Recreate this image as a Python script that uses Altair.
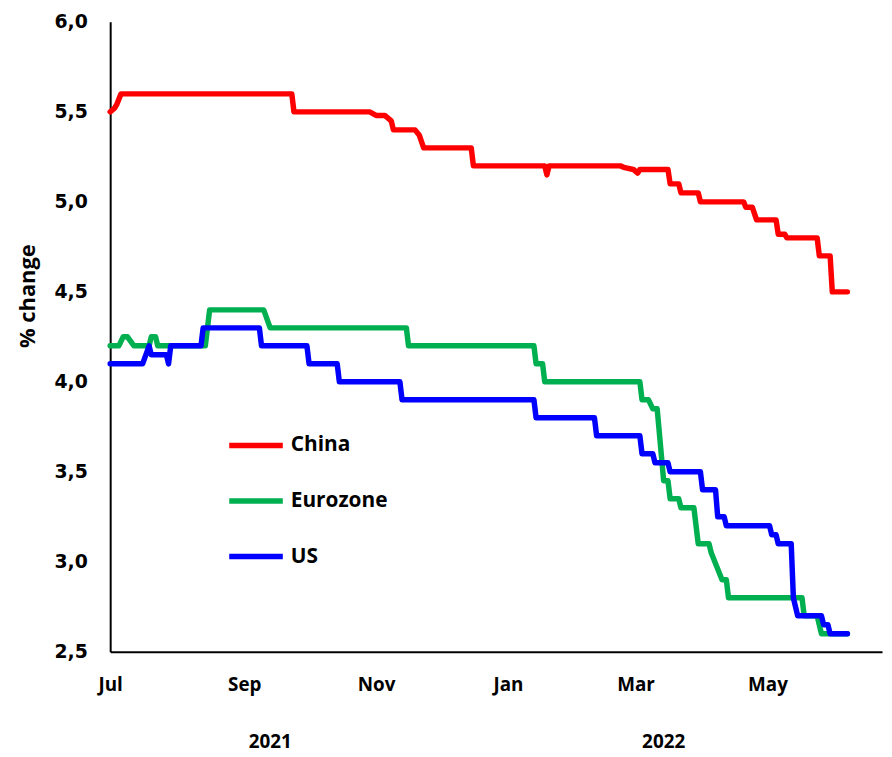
import altair as alt
import pandas as pd

# ---- data ----
series_names = ["China", "Eurozone", "US"]
series_colors = ["#FF0000", "#00B050", "#0000FF"]

china_dates = ["2021-07-01", "2021-07-03", "2021-07-04", "2021-07-06", "2021-09-23", "2021-09-24",
               "2021-10-29", "2021-11-01", "2021-11-05", "2021-11-08", "2021-11-09", "2021-11-19",
               "2021-11-21", "2021-11-23", "2021-12-15", "2021-12-16", "2022-01-18", "2022-01-19",
               "2022-01-20", "2022-02-22", "2022-02-24", "2022-02-28", "2022-03-02", "2022-03-03",
               "2022-03-16", "2022-03-17", "2022-03-21", "2022-03-22", "2022-03-30", "2022-03-31",
               "2022-04-20", "2022-04-21", "2022-04-24", "2022-04-26", "2022-05-05", "2022-05-06",
               "2022-05-09", "2022-05-10", "2022-05-24", "2022-05-25", "2022-05-30", "2022-05-31",
               "2022-06-07"]
china_values = [5.50, 5.52, 5.54, 5.60, 5.60, 5.50,
                5.50, 5.48, 5.48, 5.45, 5.40, 5.40,
                5.37, 5.30, 5.30, 5.20, 5.20, 5.15,
                5.20, 5.20, 5.19, 5.18, 5.16, 5.18,
                5.18, 5.10, 5.10, 5.05, 5.05, 5.00,
                5.00, 4.97, 4.97, 4.90, 4.90, 4.82,
                4.82, 4.80, 4.80, 4.70, 4.70, 4.50,
                4.50]

euro_dates = ["2021-07-01", "2021-07-05", "2021-07-07", "2021-07-09", "2021-07-12", "2021-07-19",
              "2021-07-20", "2021-07-22", "2021-07-23", "2021-08-14", "2021-08-16", "2021-09-10",
              "2021-09-13", "2021-11-15", "2021-11-16", "2022-01-13", "2022-01-14", "2022-01-17",
              "2022-01-18", "2022-03-03", "2022-03-04", "2022-03-07", "2022-03-09", "2022-03-11",
              "2022-03-14", "2022-03-16", "2022-03-17", "2022-03-21", "2022-03-22", "2022-03-28",
              "2022-03-30", "2022-04-04", "2022-04-05", "2022-04-10", "2022-04-12", "2022-04-13",
              "2022-05-17", "2022-05-18", "2022-05-24", "2022-05-26", "2022-06-07"]
euro_values = [4.20, 4.20, 4.25, 4.25, 4.20, 4.20,
               4.25, 4.25, 4.20, 4.20, 4.40, 4.40,
               4.30, 4.30, 4.20, 4.20, 4.10, 4.10,
               4.00, 4.00, 3.90, 3.90, 3.85, 3.85,
               3.45, 3.45, 3.35, 3.35, 3.30, 3.30,
               3.10, 3.10, 3.05, 2.90, 2.90, 2.80,
               2.80, 2.70, 2.70, 2.60, 2.60]

us_dates = ["2021-07-01", "2021-07-16", "2021-07-19", "2021-07-20", "2021-07-27", "2021-07-28",
            "2021-07-29", "2021-08-12", "2021-08-13", "2021-09-08", "2021-09-09", "2021-09-30",
            "2021-10-01", "2021-10-14", "2021-10-15", "2021-11-12", "2021-11-13", "2022-01-13",
            "2022-01-14", "2022-02-10", "2022-02-11", "2022-03-03", "2022-03-04", "2022-03-09",
            "2022-03-10", "2022-03-16", "2022-03-17", "2022-03-31", "2022-04-01", "2022-04-07",
            "2022-04-08", "2022-04-11", "2022-04-12", "2022-05-02", "2022-05-03", "2022-05-05",
            "2022-05-06", "2022-05-12", "2022-05-13", "2022-05-15", "2022-05-26", "2022-05-27",
            "2022-05-29", "2022-05-30", "2022-06-07"]
us_values = [4.10, 4.10, 4.20, 4.15, 4.15, 4.10,
             4.20, 4.20, 4.30, 4.30, 4.20, 4.20,
             4.10, 4.10, 4.00, 4.00, 3.90, 3.90,
             3.80, 3.80, 3.70, 3.70, 3.60, 3.60,
             3.55, 3.55, 3.50, 3.50, 3.40, 3.40,
             3.25, 3.25, 3.20, 3.20, 3.15, 3.15,
             3.10, 3.10, 2.80, 2.70, 2.70, 2.65,
             2.65, 2.60, 2.60]

year_labels = ["2021", "2022"]
year_dates = ["2021-09-13", "2022-03-14"]

y_ticks = [2.5, 3.0, 3.5, 4.0, 4.5, 5.0, 5.5, 6.0]

# ---- build table ----
rows = []
for name, dates, vals in zip(series_names, [china_dates, euro_dates, us_dates],
                             [china_values, euro_values, us_values]):
    for i, (d, v) in enumerate(zip(dates, vals)):
        rows.append({"series": name, "date": d, "value": v, "order": i})
df = pd.DataFrame(rows)
years_df = pd.DataFrame({"label": year_labels, "date": year_dates})

W, H = 778, 635

x_scale = alt.Scale(type="utc",
                    domain=[alt.DateTime(year=2021, month=7, date=1, utc=True),
                            alt.DateTime(year=2022, month=6, date=23, utc=True)])
x_ticks = [alt.DateTime(year=y, month=m, date=1, utc=True)
           for y, m in [(2021, 7), (2021, 9), (2021, 11), (2022, 1), (2022, 3), (2022, 5)]]

lines = alt.Chart(df).mark_line(strokeWidth=5.5, strokeCap="round", strokeJoin="round").encode(
    x=alt.X("date:T", scale=x_scale,
            axis=alt.Axis(values=x_ticks, labelExpr="utcFormat(datum.value, '%b')", title=None,
                          labelFont="Open Sans", labelFontWeight="bold", labelFontSize=19,
                          labelColor="black", labelPadding=24, labelBaseline="top",
                          labelAlign="center", labelFlush=False)),
    y=alt.Y("value:Q", scale=alt.Scale(domain=[2.5, 6.0], nice=False, zero=False),
            axis=alt.Axis(values=y_ticks,
                          labelExpr="replace(format(datum.value, '.1f'), '.', ',')",
                          labelFont="DejaVu Sans", labelFontWeight="bold", labelFontSize=19,
                          labelColor="black", labelPadding=23,
                          title="% change", titleFont="Open Sans", titleFontWeight="bold",
                          titleFontSize=22, titleColor="black", titleX=-83, titleY=276,
                          titleBaseline="middle", titleAlign="center")),
    color=alt.Color("series:N",
                    scale=alt.Scale(domain=series_names, range=series_colors),
                    legend=alt.Legend(title=None, orient="none", legendX=117, legendY=397,
                                      symbolType="stroke", symbolSize=2916, symbolStrokeWidth=5.5,
                                      symbolOpacity=1, labelFont="Open Sans",
                                      labelFontWeight="bold", labelFontSize=21, labelColor="black",
                                      labelOffset=5, rowPadding=15)),
    order=alt.Order("order:Q"),
)

years = alt.Chart(years_df).mark_text(font="Open Sans", fontWeight="bold", fontSize=19,
                                      color="black", baseline="middle").encode(
    x=alt.X("date:T", scale=x_scale),
    y=alt.value(H + 91),
    text="label:N",
)

chart = alt.layer(lines, years).properties(
    width=W, height=H,
    autosize=alt.AutoSizeParams(type="none"),
    padding={"left": 103, "top": 11, "right": 2, "bottom": 100},
).configure_view(stroke=None).configure_axis(
    grid=False, ticks=False, domainColor="black", domainWidth=2
)

chart.save("out.html", embed_options={"renderer": "svg", "actions": False})
